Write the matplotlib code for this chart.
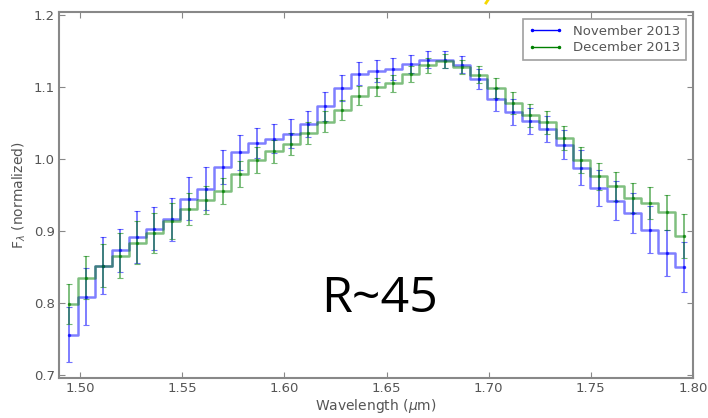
import matplotlib
matplotlib.use("Agg")
import matplotlib.pyplot as plt
from matplotlib.lines import Line2D

# GPI H-band channels (um)
wavelength = [1.4946, 1.5030, 1.5113, 1.5197, 1.5280, 1.5364, 1.5448, 1.5531, 1.5615, 1.5698,
              1.5782, 1.5866, 1.5949, 1.6033, 1.6116, 1.6200, 1.6284, 1.6367, 1.6451, 1.6534,
              1.6618, 1.6702, 1.6785, 1.6869, 1.6952, 1.7036, 1.7120, 1.7203, 1.7287, 1.7370,
              1.7454, 1.7538, 1.7621, 1.7705, 1.7788, 1.7872, 1.7956]

nov_flux = [0.756, 0.809, 0.852, 0.873, 0.892, 0.903, 0.916, 0.945, 0.959, 0.989,
            1.009, 1.022, 1.028, 1.035, 1.048, 1.073, 1.098, 1.118, 1.122, 1.125,
            1.132, 1.138, 1.138, 1.131, 1.111, 1.083, 1.065, 1.053, 1.042, 1.020,
            0.988, 0.960, 0.942, 0.925, 0.902, 0.869, 0.850]
nov_err = [0.038, 0.040, 0.040, 0.030, 0.036, 0.030, 0.030, 0.030, 0.030, 0.024,
           0.024, 0.021, 0.020, 0.020, 0.018, 0.020, 0.018, 0.016, 0.015, 0.015,
           0.013, 0.012, 0.012, 0.012, 0.014, 0.016, 0.018, 0.018, 0.018, 0.020,
           0.024, 0.025, 0.027, 0.028, 0.033, 0.032, 0.035]

dec_flux = [0.799, 0.835, 0.852, 0.866, 0.884, 0.897, 0.914, 0.931, 0.943, 0.955,
            0.979, 0.998, 1.011, 1.021, 1.036, 1.052, 1.068, 1.088, 1.100, 1.105,
            1.118, 1.130, 1.136, 1.128, 1.117, 1.099, 1.078, 1.061, 1.051, 1.029,
            0.999, 0.976, 0.962, 0.946, 0.939, 0.926, 0.893]
dec_err = [0.028, 0.030, 0.030, 0.031, 0.030, 0.028, 0.025, 0.022, 0.020, 0.018,
           0.018, 0.018, 0.016, 0.015, 0.015, 0.015, 0.014, 0.013, 0.012, 0.012,
           0.011, 0.010, 0.010, 0.010, 0.012, 0.014, 0.015, 0.016, 0.016, 0.017,
           0.018, 0.019, 0.020, 0.021, 0.022, 0.024, 0.030]

series = [("November 2013", nov_flux, nov_err, "b"),
          ("December 2013", dec_flux, dec_err, "g")]

TXT = "#555555"

fig = plt.figure(figsize=(7.08, 4.18), dpi=100)
ax = fig.add_axes([59/708, 1 - 378/418, (693 - 59)/708, (378 - 12)/418])

handles = []
for label, flux, err, col in series:
    ax.plot(wavelength, flux, drawstyle="steps-mid", color=col, alpha=0.5, lw=1.8)
    ax.errorbar(wavelength, flux, yerr=err, fmt=".", color=col, ms=3,
                elinewidth=1.3, capsize=2, capthick=0.8, alpha=0.55)
    handles.append(Line2D([], [], color=col, marker=".", ms=3, lw=1, label=label))

ax.set_xlim(1.4897, 1.80)
ax.set_ylim(0.696, 1.204)
ax.set_xticks([1.50, 1.55, 1.60, 1.65, 1.70, 1.75, 1.80])
ax.set_yticks([0.7, 0.8, 0.9, 1.0, 1.1, 1.2])
ax.set_xticklabels(["1.50", "1.55", "1.60", "1.65", "1.70", "1.75", "1.80"])
ax.tick_params(direction="in", top=True, right=True, length=4, color="#888888",
               labelsize=9.5, labelcolor=TXT, pad=3)
for s in ax.spines.values():
    s.set_color("#888888")
    s.set_linewidth(1.5)

ax.set_xlabel(r"Wavelength ($\mu$m)", fontsize=10, color=TXT, labelpad=1)
ax.set_ylabel(r"F$_\lambda$ (normalized)", fontsize=10, color=TXT, labelpad=4)

leg = ax.legend(handles=handles, loc="upper right", numpoints=2, fontsize=9.5,
                fancybox=False, handlelength=2.6, borderaxespad=0.55,
                labelspacing=0.3, labelcolor=TXT)
leg.get_frame().set_edgecolor("#888888")
leg.get_frame().set_linewidth(1.2)

ax.text(0.505, 0.18, "R~45", transform=ax.transAxes, fontsize=36,
        family="Open Sans", ha="center", va="baseline", color="black")

# small yellow mark at the top edge of the slide crop
fig.add_artist(Line2D([488/708, 486/708], [1.0, 1 - 3/418], color="#f5d800", lw=2))

fig.savefig("out.png", dpi=100)
